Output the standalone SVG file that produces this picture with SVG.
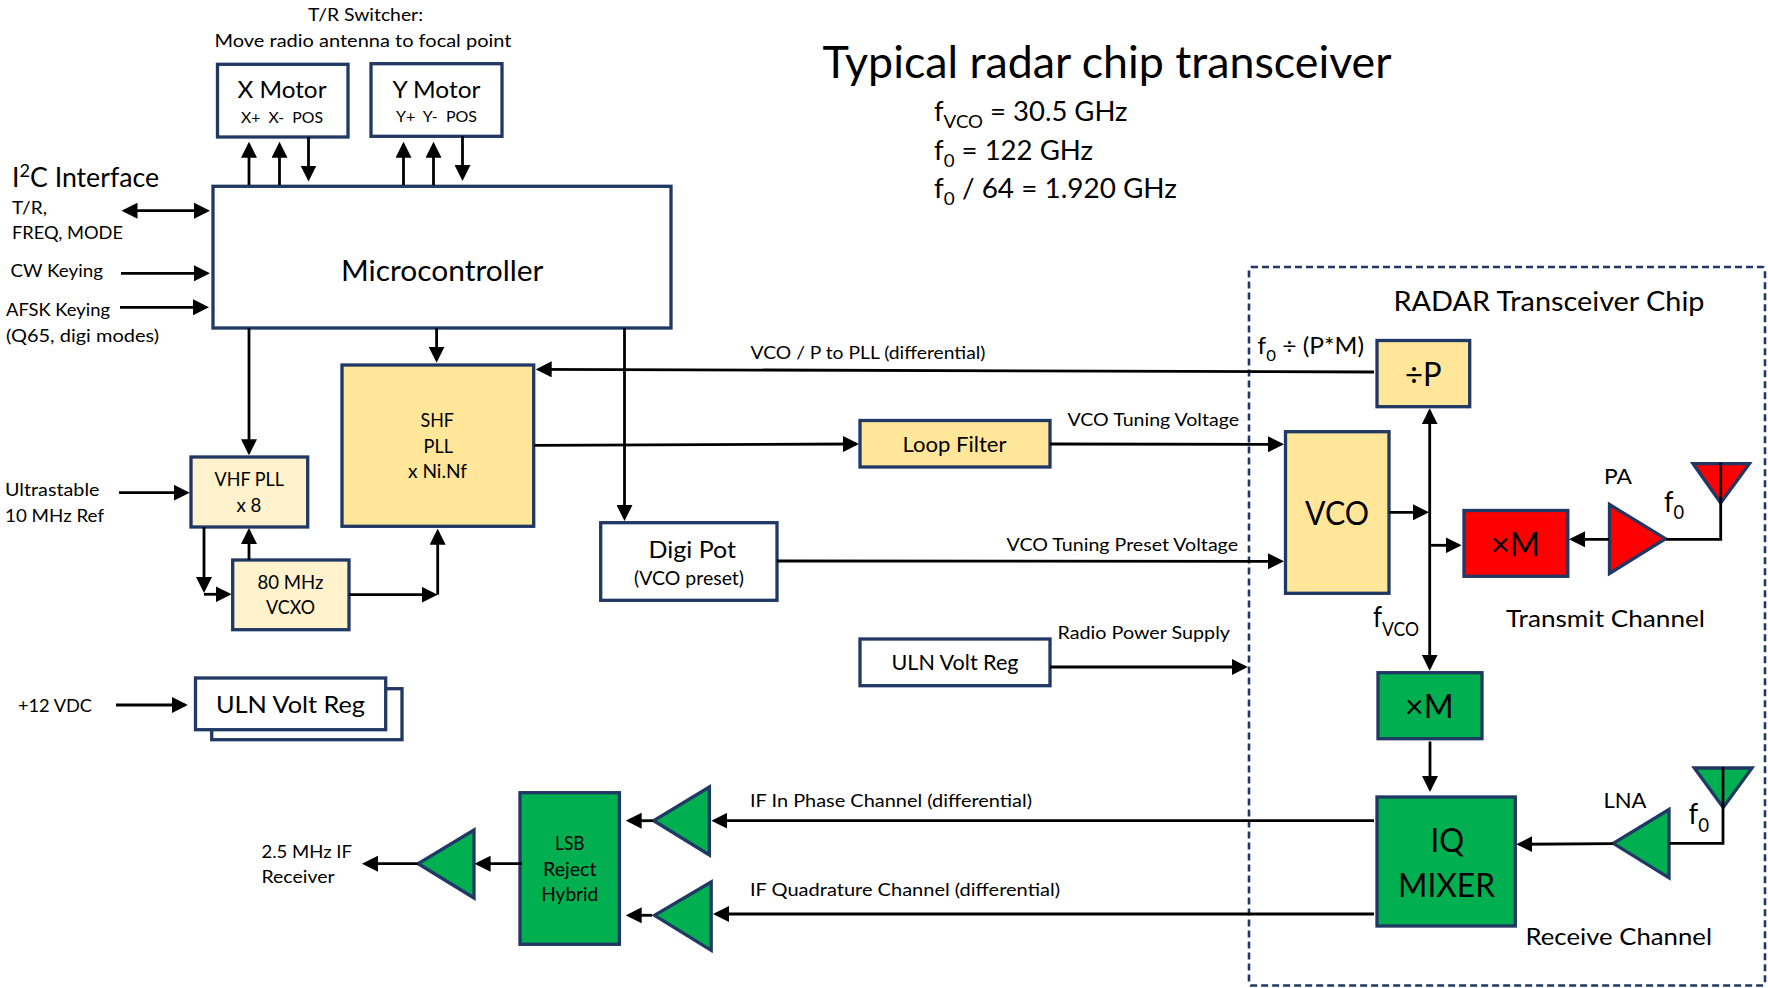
<svg xmlns="http://www.w3.org/2000/svg" width="1768" height="988" viewBox="0 0 1768 988">
<style>
text{font-family:"Lato","Liberation Sans",sans-serif;fill:#000}
.b{stroke:#1f3864;stroke-width:3.3}
.w{fill:#fff}.g{fill:#ffe699}.l{fill:#fff2cc}.r{fill:#f00}.n{fill:#00b050}
.c line,.c path{stroke:#000;stroke-width:2.8;fill:none}
.a{marker-end:url(#ah)}
.s15{font-size:15.5px}.s17{font-size:18.2px}.s18{font-size:19.2px}.s21{font-size:22px}.s22{font-size:23.5px}.s25{font-size:26px}.s28{font-size:29px}.s31{font-size:33.5px}.s42{font-size:44px}
.sub{font-size:.68em}
</style>
<defs>
<marker id="ah" markerUnits="userSpaceOnUse" markerWidth="16" markerHeight="16" viewBox="0 0 16 16" refX="13" refY="8" orient="auto-start-reverse"><polygon points="0,0 16,8 0,16" fill="#000"/></marker>
</defs>
<rect width="1768" height="988" fill="#fff"/>

<g id="chip-boundary">
<rect x="1249" y="267" width="516" height="718.5" rx="2" fill="none" stroke="#1f3864" stroke-width="2.6" stroke-dasharray="7 4"/>
<text class="s25" x="1393.5" y="310.7" textLength="311" lengthAdjust="spacingAndGlyphs">RADAR Transceiver Chip</text>
</g>

<g id="title">
<text class="s42" x="822.5" y="78.2" textLength="569" lengthAdjust="spacingAndGlyphs">Typical radar chip transceiver</text>
<text class="s25" x="934" y="121" textLength="193.5" lengthAdjust="spacingAndGlyphs">f<tspan class="sub" y="128">VCO</tspan><tspan y="121"> = 30.5 GHz</tspan></text>
<text class="s25" x="934" y="159.6" textLength="159" lengthAdjust="spacingAndGlyphs">f<tspan class="sub" y="166.6">0</tspan><tspan y="159.6"> = 122 GHz</tspan></text>
<text class="s25" x="934" y="197.7" textLength="243" lengthAdjust="spacingAndGlyphs">f<tspan class="sub" y="205.2">0</tspan><tspan y="197.7"> / 64 = 1.920 GHz</tspan></text>
</g>

<g id="labels">
<text class="s17" x="308" y="20.7" textLength="115" lengthAdjust="spacingAndGlyphs">T/R Switcher:</text>
<text class="s17" x="214.5" y="46.7" textLength="297" lengthAdjust="spacingAndGlyphs">Move radio antenna to focal point</text>
<text class="s25" x="12" y="186.5" textLength="147" lengthAdjust="spacingAndGlyphs">I<tspan class="sub" y="176.5">2</tspan><tspan y="186.5">C Interface</tspan></text>
<text class="s17" x="12" y="214" textLength="35" lengthAdjust="spacingAndGlyphs">T/R,</text>
<text class="s17" x="12" y="239" textLength="111" lengthAdjust="spacingAndGlyphs">FREQ, MODE</text>
<text class="s17" x="10.5" y="277.3" textLength="92.5" lengthAdjust="spacingAndGlyphs">CW Keying</text>
<text class="s17" x="6" y="316" textLength="104" lengthAdjust="spacingAndGlyphs">AFSK Keying</text>
<text class="s17" x="6" y="341.7" textLength="153" lengthAdjust="spacingAndGlyphs">(Q65, digi modes)</text>
<text class="s17" x="5" y="496" textLength="94.5" lengthAdjust="spacingAndGlyphs">Ultrastable</text>
<text class="s17" x="5" y="522" textLength="99" lengthAdjust="spacingAndGlyphs">10 MHz Ref</text>
<text class="s17" x="18" y="711.7" textLength="74" lengthAdjust="spacingAndGlyphs">+12 VDC</text>
<text class="s17" x="261.5" y="857.7" textLength="90.5" lengthAdjust="spacingAndGlyphs">2.5 MHz IF</text>
<text class="s17" x="261.5" y="883.3" textLength="73" lengthAdjust="spacingAndGlyphs">Receiver</text>
<text class="s17" x="750.5" y="358.6" textLength="235" lengthAdjust="spacingAndGlyphs">VCO / P to PLL (differential)</text>
<text class="s17" x="1067.5" y="426" textLength="171.5" lengthAdjust="spacingAndGlyphs">VCO Tuning Voltage</text>
<text class="s17" x="1006.5" y="551" textLength="231.5" lengthAdjust="spacingAndGlyphs">VCO Tuning Preset Voltage</text>
<text class="s17" x="1057.5" y="639" textLength="172.5" lengthAdjust="spacingAndGlyphs">Radio Power Supply</text>
<text class="s17" x="750" y="807" textLength="282" lengthAdjust="spacingAndGlyphs">IF In Phase Channel (differential)</text>
<text class="s17" x="750" y="896" textLength="310" lengthAdjust="spacingAndGlyphs">IF Quadrature Channel (differential)</text>
<text class="s22" x="1257.5" y="354.3" textLength="106.5" lengthAdjust="spacingAndGlyphs">f<tspan class="sub" y="361">0</tspan><tspan y="354.3"> ÷ (P*M)</tspan></text>
<text class="s28" x="1373" y="626.7" textLength="46" lengthAdjust="spacingAndGlyphs">f<tspan class="sub" y="635.7">VCO</tspan></text>
<text class="s21" x="1604" y="484.3" textLength="28" lengthAdjust="spacingAndGlyphs">PA</text>
<text class="s28" x="1664" y="511.7" textLength="20" lengthAdjust="spacingAndGlyphs">f<tspan class="sub" y="519.3">0</tspan></text>
<text class="s22" x="1506" y="627.2" textLength="199" lengthAdjust="spacingAndGlyphs">Transmit Channel</text>
<text class="s21" x="1603.5" y="808.2" textLength="43" lengthAdjust="spacingAndGlyphs">LNA</text>
<text class="s28" x="1688.5" y="824.3" textLength="20.5" lengthAdjust="spacingAndGlyphs">f<tspan class="sub" y="832">0</tspan></text>
<text class="s22" x="1525.5" y="944.8" textLength="186.5" lengthAdjust="spacingAndGlyphs">Receive Channel</text>
</g>

<g id="x-motor"><rect class="b w" x="217.5" y="64.3" width="130.5" height="72.7"/>
<text class="s22" x="237.5" y="97.7" textLength="89" lengthAdjust="spacingAndGlyphs">X Motor</text>
<text class="s15" x="241" y="122.6" textLength="82" lengthAdjust="spacingAndGlyphs" xml:space="preserve">X+  X-  POS</text></g>
<g id="y-motor"><rect class="b w" x="371" y="63.7" width="131" height="72.6"/>
<text class="s22" x="392.5" y="97.7" textLength="88" lengthAdjust="spacingAndGlyphs">Y Motor</text>
<text class="s15" x="396" y="121.6" textLength="81" lengthAdjust="spacingAndGlyphs" xml:space="preserve">Y+  Y-  POS</text></g>
<g id="microcontroller"><rect class="b w" x="213" y="186.3" width="458" height="141.7"/>
<text class="s28" x="341" y="281" textLength="202.5" lengthAdjust="spacingAndGlyphs">Microcontroller</text></g>
<g id="shf-pll"><rect class="b g" x="342" y="365" width="191.7" height="161.3"/>
<text class="s18" x="420.5" y="427.3" textLength="33.5" lengthAdjust="spacingAndGlyphs">SHF</text>
<text class="s18" x="423.5" y="453.3" textLength="29.5" lengthAdjust="spacingAndGlyphs">PLL</text>
<text class="s18" x="408" y="477.7" textLength="59" lengthAdjust="spacingAndGlyphs">x Ni.Nf</text></g>
<g id="vhf-pll"><rect class="b l" x="191" y="457" width="116.7" height="70"/>
<text class="s18" x="214.5" y="486" textLength="69.5" lengthAdjust="spacingAndGlyphs">VHF PLL</text>
<text class="s18" x="236.5" y="512" textLength="25" lengthAdjust="spacingAndGlyphs">x 8</text></g>
<g id="vcxo"><rect class="b l" x="232.7" y="560" width="116.3" height="69.7"/>
<text class="s18" x="257.5" y="589.3" textLength="66" lengthAdjust="spacingAndGlyphs">80 MHz</text>
<text class="s18" x="266" y="614" textLength="49" lengthAdjust="spacingAndGlyphs">VCXO</text></g>
<g id="digi-pot"><rect class="b w" x="600.7" y="522.7" width="176.3" height="77.6"/>
<text class="s22" x="648.5" y="557.8" textLength="87.5" lengthAdjust="spacingAndGlyphs">Digi Pot</text>
<text class="s18" x="634" y="585" textLength="110" lengthAdjust="spacingAndGlyphs">(VCO preset)</text></g>
<g id="uln-volt-reg-stacked"><rect class="b w" x="211.7" y="688.7" width="190.3" height="51"/>
<rect class="b w" x="195.5" y="678" width="190.2" height="51.7"/>
<text class="s22" x="216" y="712.8" textLength="149" lengthAdjust="spacingAndGlyphs">ULN Volt Reg</text></g>
<g id="loop-filter"><rect class="b g" x="860" y="420.5" width="190" height="46.5"/>
<text class="s21" x="902.5" y="452" textLength="104" lengthAdjust="spacingAndGlyphs">Loop Filter</text></g>
<g id="uln-volt-reg"><rect class="b w" x="860" y="639" width="190" height="46.7"/>
<text class="s21" x="891.5" y="670" textLength="127" lengthAdjust="spacingAndGlyphs">ULN Volt Reg</text></g>
<g id="div-p"><rect class="b g" x="1377" y="340.5" width="92.7" height="66.2"/>
<text class="s31" x="1405" y="385.5" textLength="36.5" lengthAdjust="spacingAndGlyphs">÷P</text></g>
<g id="vco"><rect class="b g" x="1285.5" y="431.7" width="103.5" height="161.6"/>
<text class="s31" x="1305" y="525" textLength="64" lengthAdjust="spacingAndGlyphs">VCO</text></g>
<g id="tx-mult"><rect class="b r" x="1464" y="510.5" width="103.8" height="65.8"/>
<text class="s31" x="1491" y="555.5" textLength="49" lengthAdjust="spacingAndGlyphs">×M</text></g>
<g id="pa"><polygon class="b r" points="1609.5,504.5 1665.5,538.7 1609.5,573.5"/></g>
<g id="tx-antenna"><polygon class="b r" points="1693,463.7 1749.4,463.7 1720.7,503"/></g>
<g id="rx-mult"><rect class="b n" x="1378" y="672.7" width="104" height="66"/>
<text class="s31" x="1405" y="717.7" textLength="48.5" lengthAdjust="spacingAndGlyphs">×M</text></g>
<g id="iq-mixer"><rect class="b n" x="1377" y="797" width="138.3" height="129"/>
<text class="s31" x="1430.5" y="851.7" textLength="33.5" lengthAdjust="spacingAndGlyphs">IQ</text>
<text class="s31" x="1398" y="896.5" textLength="97" lengthAdjust="spacingAndGlyphs">MIXER</text></g>
<g id="lna"><polygon class="b n" points="1613.2,843.3 1669,809.5 1669,877.8"/></g>
<g id="rx-antenna"><polygon class="b n" points="1694.3,768 1752,768 1723.2,807.4"/></g>
<g id="lsb-hybrid"><rect class="b n" x="520" y="792.7" width="99.4" height="151.6"/>
<text class="s18" x="555" y="850" textLength="29.5" lengthAdjust="spacingAndGlyphs">LSB</text>
<text class="s18" x="543" y="876" textLength="53.5" lengthAdjust="spacingAndGlyphs">Reject</text>
<text class="s18" x="541.3" y="901.3" textLength="57" lengthAdjust="spacingAndGlyphs">Hybrid</text></g>
<g id="if-amp-i"><polygon class="b n" points="653.7,820.7 709.4,787 709.4,855"/></g>
<g id="if-amp-q"><polygon class="b n" points="654.4,915.3 711.2,882 711.2,950.4"/></g>
<g id="if-amp-out"><polygon class="b n" points="418.2,863.7 474,830 474,898"/></g>

<g id="connectors" class="c">
<line class="a" x1="249" y1="185" x2="249" y2="144.7"/>
<line class="a" x1="279.5" y1="185" x2="279.5" y2="144.7"/>
<line class="a" x1="308.5" y1="137" x2="308.5" y2="178.5"/>
<line class="a" x1="403.5" y1="185" x2="403.5" y2="144.7"/>
<line class="a" x1="433.5" y1="185" x2="433.5" y2="144.7"/>
<line class="a" x1="462.5" y1="136" x2="462.5" y2="178"/>
<line class="a" style="marker-start:url(#ah)" x1="124.5" y1="210.7" x2="207" y2="210.7"/>
<line class="a" x1="121" y1="273.3" x2="207" y2="273.3"/>
<line class="a" x1="120" y1="307.3" x2="206" y2="307.3"/>
<line class="a" x1="436.6" y1="328" x2="436.6" y2="359.7"/>
<line class="a" x1="1374" y1="372" x2="538.7" y2="369.3"/>
<line class="a" x1="249" y1="328" x2="249" y2="452.3"/>
<line class="a" x1="624.5" y1="328" x2="624.5" y2="518"/>
<line class="a" x1="119" y1="492.7" x2="186.8" y2="492.7"/>
<line class="a" x1="204" y1="527" x2="204" y2="590"/>
<line class="a" x1="204" y1="594.3" x2="228.6" y2="594.3"/>
<line class="a" x1="249" y1="560" x2="249" y2="531"/>
<line class="a" x1="349" y1="594.7" x2="434.7" y2="594.7"/>
<line class="a" x1="437.7" y1="594.7" x2="437.7" y2="531.7"/>
<line class="a" x1="116" y1="705" x2="184.8" y2="705"/>
<line class="a" x1="534" y1="445.3" x2="856" y2="444"/>
<line class="a" x1="1050" y1="444" x2="1281" y2="444.3"/>
<line class="a" x1="777" y1="561" x2="1281" y2="561.3"/>
<line class="a" x1="1050" y1="667" x2="1244.8" y2="667"/>
<line class="a" style="marker-start:url(#ah)" x1="1429.7" y1="411.3" x2="1429.7" y2="667.7"/>
<line class="a" x1="1389" y1="512.3" x2="1426" y2="512.3"/>
<line class="a" x1="1431" y1="545.3" x2="1458.6" y2="545.3"/>
<line class="a" x1="1609" y1="539.3" x2="1572" y2="539.3"/>
<path d="M1720.7 462.7V539.3H1666"/>
<line class="a" x1="1430" y1="741.5" x2="1430" y2="789"/>
<line class="a" x1="1613" y1="843.7" x2="1519.3" y2="844.3"/>
<path d="M1723 767V843.3H1669.6"/>
<line class="a" x1="1374" y1="820.7" x2="714.4" y2="820.7"/>
<line class="a" x1="1374" y1="914" x2="716" y2="914"/>
<line class="a" x1="653" y1="820.7" x2="628.7" y2="820.7"/>
<line class="a" x1="652" y1="915.3" x2="628.7" y2="915.3"/>
<line class="a" x1="522" y1="863.7" x2="477.6" y2="863.7"/>
<line class="a" x1="418" y1="863.7" x2="365" y2="863.7"/>
</g>
</svg>
